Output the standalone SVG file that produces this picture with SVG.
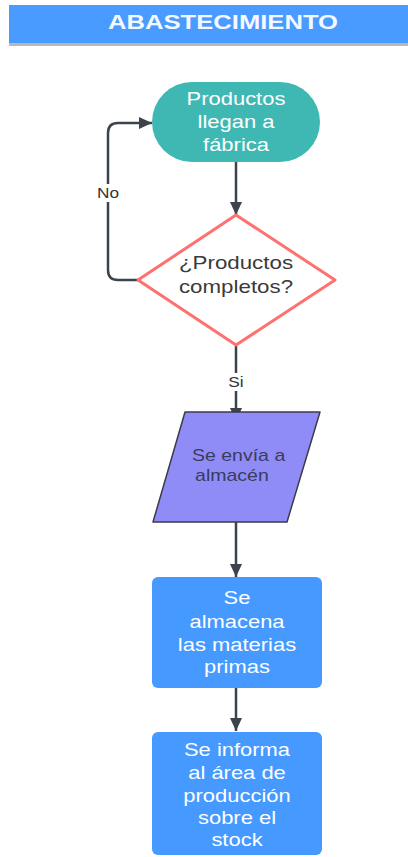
<svg xmlns="http://www.w3.org/2000/svg" width="408" height="857" viewBox="0 0 408 857">
  <style>
    .t { font-family: "Liberation Sans", Arial, sans-serif; text-anchor: middle; }
    .light { fill: #ffffff; font-size: 18px; }
    .dark { fill: #3a3a3a; font-size: 18px; }
    .edge { fill: none; stroke: #3d434d; stroke-width: 2.5; }
    .lbl { fill: #333333; font-size: 15px; }
  </style>
  <defs>
    <marker id="arrow" markerUnits="userSpaceOnUse" markerWidth="13" markerHeight="12" refX="13" refY="6" orient="auto">
      <path d="M0,0 L13,6 L0,12 z" fill="#3d434d"/>
    </marker>
  </defs>

  <!-- title banner -->
  <g id="title">
    <rect x="9" y="42" width="399" height="4" fill="#b8b8b8"/>
    <rect x="9" y="5" width="399" height="38" fill="#4a9bff"/>
    <g transform="translate(223 0) scale(1.22 1)">
      <text class="t" x="0" y="29.5" font-size="21" font-weight="bold" fill="#f4f8ff">ABASTECIMIENTO</text>
    </g>
  </g>

  <!-- connectors -->
  <g id="connectors">
    <path class="edge" d="M236,162 V215" marker-end="url(#arrow)"/>
    <path class="edge" d="M139,280 H118 Q108,280 108,270 V133 Q108,123 118,123 H152" marker-end="url(#arrow)"/>
    <path class="edge" d="M236,345 V421" marker-end="url(#arrow)"/>
    <path class="edge" d="M236,508 V577" marker-end="url(#arrow)"/>
    <path class="edge" d="M236,688 V731" marker-end="url(#arrow)"/>
    <rect x="95" y="184" width="26" height="18" fill="#ffffff"/>
    <g transform="translate(108 0) scale(1.15 1)">
      <text class="t lbl" x="0" y="198.5">No</text>
    </g>
    <rect x="226" y="373" width="20" height="18" fill="#ffffff"/>
    <g transform="translate(236 0) scale(1.15 1)">
      <text class="t lbl" x="0" y="387.5">Si</text>
    </g>
  </g>

  <!-- start: products arrive -->
  <g id="node-llegan">
    <rect x="152" y="82" width="168" height="80" rx="40" fill="#3fb8b4"/>
    <g transform="translate(236 0) scale(1.22 1)">
      <text class="t light" x="0" y="105.5">Productos</text>
      <text class="t light" x="0" y="128.5">llegan a</text>
      <text class="t light" x="0" y="151.5">fábrica</text>
    </g>
  </g>

  <!-- decision -->
  <g id="node-completos">
    <polygon points="236,215 335,280 236,345 138,280" fill="#ffffff" stroke="#ff7070" stroke-width="3" stroke-linejoin="round"/>
    <g transform="translate(236 0) scale(1.24 1)">
      <text class="t dark" x="0" y="269.5">¿Productos</text>
      <text class="t dark" x="0" y="293.5">completos?</text>
    </g>
  </g>

  <!-- input/output: send to warehouse -->
  <g id="node-almacen">
    <polygon points="185,412 320,412 287,522 153,522" fill="#8f8cf8" stroke="#3b3b4a" stroke-width="1.5" stroke-linejoin="round"/>
    <g transform="translate(192 0) scale(1.22 1)">
      <text x="0" y="461" font-family="Liberation Sans, Arial, sans-serif" font-size="16" fill="#3b3b5c">Se envía a</text>
      <text x="2.5" y="481" font-family="Liberation Sans, Arial, sans-serif" font-size="16" fill="#3b3b5c">almacén</text>
    </g>
  </g>

  <!-- process: store raw materials -->
  <g id="node-almacena">
    <rect x="152" y="577" width="170" height="111" rx="6" fill="#4599ff"/>
    <g transform="translate(237 0) scale(1.22 1)">
      <text class="t light" x="0" y="604">Se</text>
      <text class="t light" x="0" y="628">almacena</text>
      <text class="t light" x="0" y="651">las materias</text>
      <text class="t light" x="0" y="673">primas</text>
    </g>
  </g>

  <!-- process: inform production -->
  <g id="node-informa">
    <rect x="152" y="732" width="170" height="123" rx="6" fill="#4599ff"/>
    <g transform="translate(237 0) scale(1.22 1)">
      <text class="t light" x="0" y="756">Se informa</text>
      <text class="t light" x="0" y="779">al área de</text>
      <text class="t light" x="0" y="802">producción</text>
      <text class="t light" x="0" y="824">sobre el</text>
      <text class="t light" x="0" y="846">stock</text>
    </g>
  </g>
</svg>
